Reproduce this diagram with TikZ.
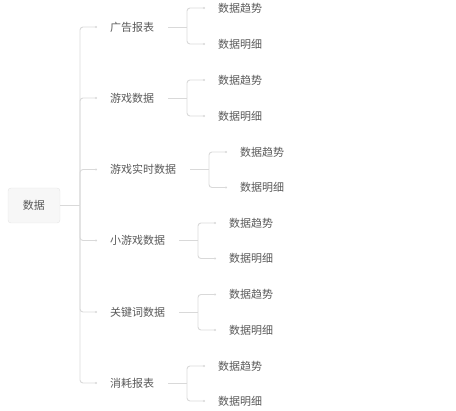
\documentclass[tikz,border=0pt]{standalone}
\usepackage{fontspec}
\setmainfont{Noto Sans CJK SC}
\usetikzlibrary{arrows.meta}
\definecolor{linec}{HTML}{D9D9D9}
\definecolor{textc}{HTML}{595959}
\begin{document}
\begin{tikzpicture}[x=1pt,y=-1pt,
  lbl/.style={anchor=west,inner sep=0pt,text=textc,font=\fontsize{11pt}{13pt}\selectfont},
  rootbox/.style={draw=linec!70,fill=black!3,rounded corners=3pt,minimum width=52pt,minimum height=35pt,text=textc,font=\fontsize{11pt}{13pt}\selectfont},
  conn/.style={draw=linec,line width=0.9pt,rounded corners=3pt},
  tip/.style={-{Circle[length=2pt]}}]
\useasboundingbox (0,0) rectangle (456,411);
\node[rootbox] (root) at (34,205.5) {数据};
\coordinate (trunk) at (80,205.5);
% level 1
\node[lbl] (a) at (110,27) {广告报表};
\node[lbl] (b) at (110,98) {游戏数据};
\node[lbl] (c) at (110,169.5) {游戏实时数据};
\node[lbl] (d) at (110,240.5) {小游戏数据};
\node[lbl] (e) at (110,312) {关键词数据};
\node[lbl] (f) at (110,383) {消耗报表};
\draw[conn] (root.east) -- (trunk);
\foreach \n in {a,b,c,d,e,f}{
  \draw[conn,tip] (trunk) |- ([xshift=-13pt]\n.west);
}
% level 2
\foreach \n/\sx/\bx/\cx/\ya/\yb in {a/168/187/218/8/44, b/168/187/218/80/116, c/190/209/240/152/187.5, d/179/198/229/223/258.5, e/179/198/229/294.5/330, f/168/187/218/366/401}{
  \coordinate (\n s) at (\sx,0 |- \n.center);
  \coordinate (\n m) at (\bx,0 |- \n.center);
  \node[lbl] (\n1) at (\cx,\ya) {数据趋势};
  \node[lbl] (\n2) at (\cx,\yb) {数据明细};
  \draw[conn] (\n s) -- (\n m);
  \draw[conn,tip] (\n m) |- ([xshift=-13pt]\n1.west);
  \draw[conn,tip] (\n m) |- ([xshift=-13pt]\n2.west);
}
\end{tikzpicture}
\end{document}
